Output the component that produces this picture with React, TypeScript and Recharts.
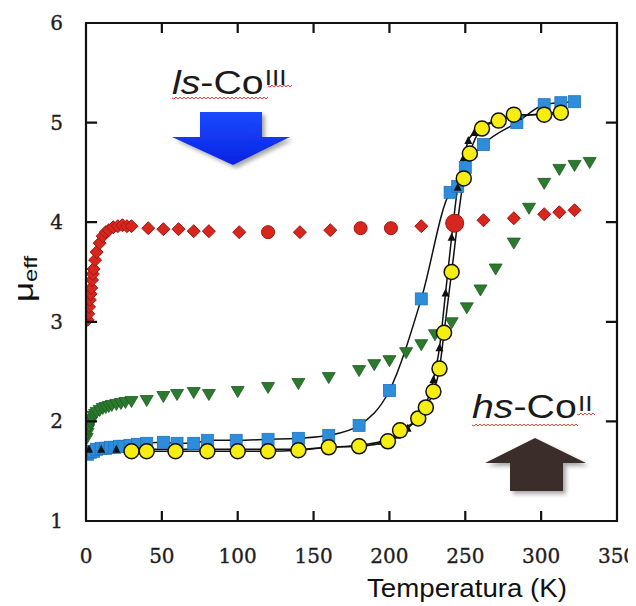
import React from 'react';
import { ComposedChart, Line, Scatter, XAxis, YAxis } from 'recharts';

type Pt = { T: number; mu: number };
const zip = (T: number[], mu: number[]): Pt[] => T.map((t, i) => ({ T: t, mu: mu[i] }));

// Axis ticks
const xTicks = [0, 50, 100, 150, 200, 250, 300, 350];
const yTicks = [1, 2, 3, 4, 5, 6];

// Red series (diamonds + a few circles)
const redDiamondT = [1, 1.5, 2, 2.5, 3, 3.5, 4, 4.5, 5, 6, 7, 9, 11, 13, 15, 18, 21, 24, 27, 30, 41, 51, 61, 71, 81, 101, 141, 161, 221, 262, 282, 302, 312, 322];
const redDiamondMu = [3.02, 3.08, 3.15, 3.22, 3.28, 3.34, 3.42, 3.48, 3.53, 3.62, 3.7, 3.79, 3.86, 3.9, 3.92, 3.95, 3.96, 3.97, 3.96, 3.96, 3.94, 3.93, 3.93, 3.91, 3.91, 3.9, 3.9, 3.92, 3.96, 4.02, 4.04, 4.08, 4.1, 4.12];
const redCircleT = [120, 181, 201];
const redCircleMu = [3.9, 3.94, 3.94];
const redBigT = [243];
const redBigMu = [3.99];

// Green down-triangles
const greenT = [0.5, 1, 1.5, 2, 3, 4, 5, 6, 7, 9, 11, 13, 15, 17, 20, 23, 26, 30, 40, 51, 60, 71, 81, 100, 120, 140, 160, 180, 190, 200, 211, 221, 230, 241, 251, 260, 270, 282, 292, 302, 312, 322, 332];
const greenMu = [1.83, 1.88, 1.92, 1.95, 1.99, 2.02, 2.05, 2.07, 2.09, 2.11, 2.13, 2.14, 2.15, 2.16, 2.17, 2.18, 2.19, 2.2, 2.21, 2.25, 2.27, 2.29, 2.27, 2.3, 2.34, 2.38, 2.44, 2.51, 2.57, 2.61, 2.69, 2.77, 2.87, 2.99, 3.14, 3.32, 3.53, 3.79, 4.14, 4.39, 4.53, 4.57, 4.6];

// Blue squares (with curve)
const blueT = [1, 3, 5, 7, 10, 13, 16, 19, 22, 25, 29, 34, 40, 51, 60, 71, 80, 99, 120, 140, 160, 180, 200, 221, 240, 245, 250, 262, 284, 302, 313, 322];
const blueMu = [1.67, 1.69, 1.7, 1.72, 1.73, 1.73, 1.74, 1.74, 1.75, 1.75, 1.76, 1.77, 1.78, 1.79, 1.78, 1.78, 1.81, 1.81, 1.82, 1.83, 1.86, 1.96, 2.31, 3.23, 4.3, 4.36, 4.55, 4.78, 5.0, 5.18, 5.2, 5.21];

// Yellow circles (with curve)
const yellowT = [30, 40, 59, 80, 100, 120, 140, 160, 180, 199, 207, 219, 224, 229, 233, 236, 241, 249, 253, 261, 272, 282, 302, 313];
const yellowMu = [1.7, 1.7, 1.7, 1.7, 1.7, 1.7, 1.71, 1.74, 1.75, 1.8, 1.91, 2.03, 2.14, 2.3, 2.53, 2.89, 3.5, 4.44, 4.69, 4.94, 5.02, 5.08, 5.08, 5.1];

// Small black up-triangles (with curve)
const blackT = [2, 10, 20, 40, 60, 80, 100, 120, 140, 160, 180, 195, 205, 212, 218, 224, 229, 233, 237, 241, 245, 249, 252, 256, 262, 270, 285, 300, 315];
const blackMu = [1.72, 1.72, 1.72, 1.72, 1.72, 1.72, 1.72, 1.72, 1.72, 1.74, 1.76, 1.8, 1.86, 1.93, 2.02, 2.17, 2.42, 2.74, 3.29, 3.85, 4.35, 4.65, 4.82, 4.9, 4.97, 5.02, 5.06, 5.09, 5.11];

const redDiamond = zip(redDiamondT, redDiamondMu);
const redCircle = zip(redCircleT, redCircleMu);
const redBig = zip(redBigT, redBigMu);
const green = zip(greenT, greenMu);
const blue = zip(blueT, blueMu);
const yellow = zip(yellowT, yellowMu);
const black = zip(blackT, blackMu);

const W = 628;
const H = 598;
const MARGIN = { top: 15, right: 19, bottom: 35, left: 18 };
const X_AXIS_H = 50;
const Y_AXIS_W = 60;
const X_DOMAIN: [number, number] = [0, 350];
const Y_DOMAIN: [number, number] = [1, 6];

// plot box, the same one the chart lays out from its margins and axis sizes
const PLOT_L = MARGIN.left + Y_AXIS_W;
const PLOT_T = MARGIN.top;
const PLOT_W = W - MARGIN.left - MARGIN.right - Y_AXIS_W;
const PLOT_H = H - MARGIN.top - MARGIN.bottom - X_AXIS_H;
const sx = (v: number) => PLOT_L + ((v - X_DOMAIN[0]) / (X_DOMAIN[1] - X_DOMAIN[0])) * PLOT_W;
const sy = (v: number) => PLOT_T + PLOT_H - ((v - Y_DOMAIN[0]) / (Y_DOMAIN[1] - Y_DOMAIN[0])) * PLOT_H;

const TICK = 9;
const tickFont = { fontFamily: '"DejaVu Serif", serif', fontSize: 20, fill: '#1e1e1e', stroke: '#1e1e1e', strokeWidth: 0.35 };

const BottomTick = (p: any) => {
  const { x, y, payload } = p;
  return <text x={x} y={y + 42} textAnchor="middle" {...tickFont}>{payload.value}</text>;
};
const LeftTick = (p: any) => {
  const { x, y, payload } = p;
  return <text x={x - 23} y={y + 7} textAnchor="end" {...tickFont}>{payload.value}</text>;
};

// Marker shapes
const RedDiamond = (p: any) => {
  const { cx, cy } = p;
  const s = 6.5;
  return <polygon points={`${cx},${cy - s} ${cx + s},${cy} ${cx},${cy + s} ${cx - s},${cy}`} fill="#d6261d" stroke="#a3160f" strokeWidth={1} />;
};
const RedCircle = (p: any) => <circle cx={p.cx} cy={p.cy} r={6.5} fill="#d6261d" stroke="#a3160f" strokeWidth={1} />;
const RedBig = (p: any) => <circle cx={p.cx} cy={p.cy} r={9} fill="#d6261d" stroke="#a3160f" strokeWidth={1} />;
const GreenTri = (p: any) => {
  const { cx, cy } = p;
  return <polygon points={`${cx - 6.5},${cy - 5} ${cx + 6.5},${cy - 5} ${cx},${cy + 6}`} fill="#2b7a2e" stroke="#1d5a20" strokeWidth={0.8} />;
};
const BlueSquare = (p: any) => <rect x={p.cx - 6} y={p.cy - 6} width={12} height={12} fill="#2e8ddb" stroke="#2173bd" strokeWidth={0.8} />;
const YellowCircle = (p: any) => <circle cx={p.cx} cy={p.cy} r={7.5} fill="#f6ee10" stroke="#111" strokeWidth={1.5} />;
const BlackTri = (p: any) => {
  const { cx, cy } = p;
  return <polygon points={`${cx - 4},${cy + 3.5} ${cx + 4},${cy + 3.5} ${cx},${cy - 4.5}`} fill="#111" />;
};

const squiggle = (x0: number, x1: number, y: number) => {
  let d = `M${x0},${y}`;
  let i = 0;
  for (let x = x0; x < x1; x += 2, i++) d += ` L${x + 2},${y + (i % 2 ? -1 : 1)}`;
  return d;
};

const sans = '"Liberation Sans", Arial, sans-serif';

// frame with inward ticks on all four sides, drawn as one path
const framePath = () => {
  const top = sy(Y_DOMAIN[1]);
  const bottom = sy(Y_DOMAIN[0]);
  const left = sx(X_DOMAIN[0]);
  const right = sx(X_DOMAIN[1]);
  let d = `M${left},${top} L${right},${top} L${right},${bottom} L${left},${bottom} Z`;
  xTicks.slice(1, -1).forEach((v) => {
    d += ` M${sx(v)},${bottom} L${sx(v)},${bottom - TICK} M${sx(v)},${top} L${sx(v)},${top + TICK}`;
  });
  yTicks.slice(1, -1).forEach((v) => {
    d += ` M${left},${sy(v)} L${left + TICK + 1},${sy(v)} M${right},${sy(v)} L${right - TICK - 1},${sy(v)}`;
  });
  return d;
};

export default function App() {
  return (
    <div style={{ position: 'relative', width: W, height: H }}>
      <ComposedChart width={W} height={H} margin={MARGIN}>
        <XAxis dataKey="T" type="number" domain={X_DOMAIN} ticks={xTicks} interval={0} allowDataOverflow
          height={X_AXIS_H} tickSize={0} tickMargin={0} tickLine={false} axisLine={false} tick={<BottomTick />} />
        <YAxis dataKey="mu" type="number" domain={Y_DOMAIN} ticks={yTicks} interval={0} allowDataOverflow
          width={Y_AXIS_W} tickSize={0} tickMargin={0} tickLine={false} axisLine={false} tick={<LeftTick />} />

        <Line data={blue} dataKey="mu" type="monotone" stroke="#111" strokeWidth={1.5} dot={false} isAnimationActive={false} />
        <Line data={black} dataKey="mu" type="monotone" stroke="#111" strokeWidth={1.5} dot={false} isAnimationActive={false} />
        <Line data={yellow} dataKey="mu" type="monotone" stroke="#111" strokeWidth={1.5} dot={false} isAnimationActive={false} />

        <Scatter data={redDiamond} dataKey="mu" shape={RedDiamond} isAnimationActive={false} />
        <Scatter data={redCircle} dataKey="mu" shape={RedCircle} isAnimationActive={false} />
        <Scatter data={redBig} dataKey="mu" shape={RedBig} isAnimationActive={false} />
        <Scatter data={green} dataKey="mu" shape={GreenTri} isAnimationActive={false} />
        <Scatter data={blue} dataKey="mu" shape={BlueSquare} isAnimationActive={false} />
        <Scatter data={black} dataKey="mu" shape={BlackTri} isAnimationActive={false} />
        <Scatter data={yellow} dataKey="mu" shape={YellowCircle} isAnimationActive={false} />
      </ComposedChart>

      <svg width={W} height={H} style={{ position: 'absolute', left: 0, top: 0, pointerEvents: 'none' }}>
        <defs>
          <filter id="arrowShadow" x="-20%" y="-20%" width="150%" height="150%">
            <feDropShadow dx="3" dy="3" stdDeviation="2" floodColor="#000" floodOpacity="0.35" />
          </filter>
          <linearGradient id="blueFill" x1="0" y1="0" x2="0" y2="1">
            <stop offset="0" stopColor="#1a4bff" />
            <stop offset="1" stopColor="#0a22e2" />
          </linearGradient>
        </defs>

        <path d={framePath()} fill="none" stroke="#111111" strokeWidth={2.2} strokeLinecap="square" />

        {/* axis titles */}
        <text transform="translate(25,271) rotate(-90) scale(1.25,1)" textAnchor="middle" fontFamily={sans} fill="#111">
          <tspan fontSize={28}>μ</tspan>
          <tspan fontSize={19} dy={4}>eff</tspan>
        </text>
        <text x={459} y={589} textAnchor="middle" fontFamily={sans} fontSize={25} fill="#111" textLength={200} lengthAdjust="spacingAndGlyphs">
          Temperatura (K)
        </text>

        {/* ls-Co(III) annotation */}
        <text transform="translate(164,86) scale(1.19,1)" fontFamily={sans} fontSize={33} fill="#1a1a1a">
          <tspan fontStyle="italic">ls</tspan>
          <tspan>-Co</tspan>
          <tspan fontSize={22} dx={1} dy={-9}>III</tspan>
        </text>
        <path d={squiggle(164, 259, 90)} fill="none" stroke="#e03030" strokeWidth={0.9} />
        <path d={squiggle(260, 284, 78)} fill="none" stroke="#e03030" strokeWidth={0.9} />
        <polygon points="192,104 254,104 254,129 282,129 225,157 164,129 192,129" fill="url(#blueFill)" filter="url(#arrowShadow)" />

        {/* hs-Co(II) annotation */}
        <text transform="translate(464,410) scale(1.19,1)" fontFamily={sans} fontSize={33} fill="#1a1a1a">
          <tspan fontStyle="italic">hs</tspan>
          <tspan>-Co</tspan>
          <tspan fontSize={22} dx={1} dy={-7}>II</tspan>
        </text>
        <path d={squiggle(464, 569, 417)} fill="none" stroke="#e03030" strokeWidth={0.9} />
        <path d={squiggle(569, 587, 406)} fill="none" stroke="#e03030" strokeWidth={0.9} />
        <polygon points="527,430 578,455 555,455 555,483 502,483 502,455 477,455" fill="#3a2f2a" filter="url(#arrowShadow)" />
      </svg>
    </div>
  );
}
